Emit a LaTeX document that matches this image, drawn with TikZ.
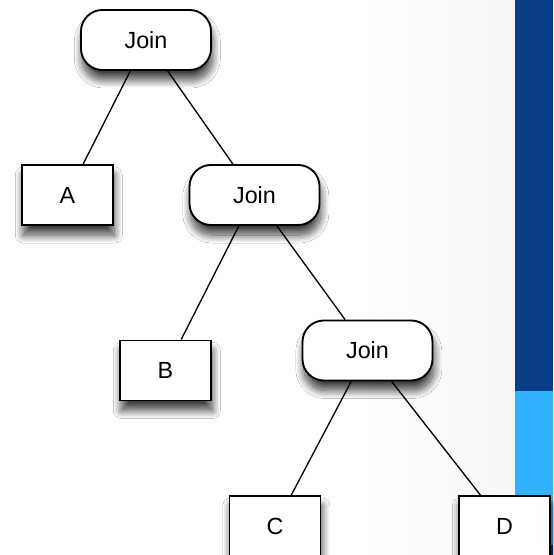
\documentclass[tikz,border=0pt]{standalone}
\usepackage{fontspec}
\setmainfont{Liberation Sans}
\usepackage{tikz}
\usetikzlibrary{shadows.blur}
\definecolor{darkband}{RGB}{10,62,135}
\definecolor{lightband}{RGB}{48,178,255}
\pgfdeclarehorizontalshading{bgfade}{100bp}{color(0bp)=(white); color(60bp)=(white); color(100bp)=(black!8)}

\begin{document}
\begin{tikzpicture}[x=0.75pt, y=-0.75pt,
        every node/.style={font=\fontsize{17.5}{20}\selectfont},
        nodeshadow/.style={blur shadow={shadow xshift=1pt, shadow yshift=-7.5pt, shadow blur radius=6pt, shadow blur steps=14, shadow opacity=75}},
        joinbox/.style={draw, line width=1.4pt, fill=white, rounded corners=16pt, minimum width=97.5pt, minimum height=45pt, inner sep=0pt, nodeshadow},
        leafbox/.style={draw, line width=1.4pt, fill=white, minimum width=68.25pt, minimum height=45pt, inner sep=0pt, nodeshadow},
        branch/.style={line width=1pt}]
        \useasboundingbox (0,0) rectangle (553,555);
        % background
        \shade[shading=bgfade] (0,0) rectangle (515,555);
        \fill[darkband] (515,0) rectangle (553,391);
        \fill[lightband] (515,391) rectangle (553,545);
        \fill[darkband] (515,545) rectangle (553,555);

        \node[joinbox] (J1) at (146,40) {Join};
        \node[leafbox] (A) at (67.5,195) {A};
        \node[joinbox] (J2) at (254.5,195) {Join};
        \node[leafbox] (B) at (165.5,370.5) {B};
        \node[joinbox] (J3) at (367.5,350.5) {Join};
        \node[leafbox] (C) at (275,526) {C};
        \node[leafbox] (D) at (504.5,526) {D};

        \draw[branch] (J1) -- (A);
        \draw[branch] (J1) -- (J2);
        \draw[branch] (J2) -- (B);
        \draw[branch] (J2) -- (J3);
        \draw[branch] (J3) -- (C);
        \draw[branch] (J3) -- (D);
    \end{tikzpicture}
\end{document}
